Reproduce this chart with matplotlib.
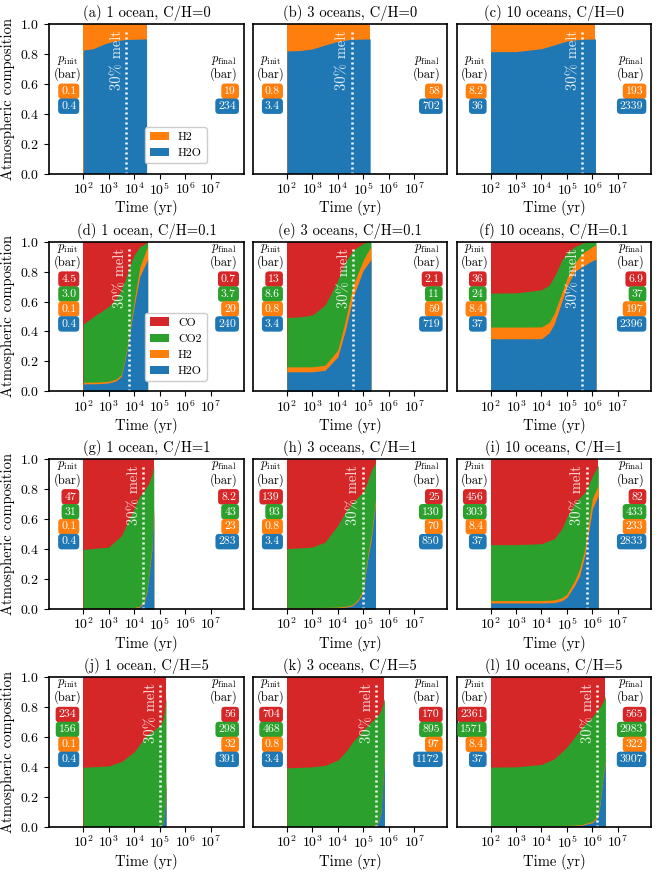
import numpy as np
import matplotlib
matplotlib.use('Agg')
import matplotlib.pyplot as plt
from matplotlib.ticker import NullLocator
from matplotlib.patches import Patch

plt.rcParams['font.family'] = 'serif'
plt.rcParams['font.serif'] = ['cmr10']
plt.rcParams['mathtext.fontset'] = 'cm'
plt.rcParams['axes.formatter.use_mathtext'] = True
plt.rcParams['axes.unicode_minus'] = False

# Panel labels
oceans = ['1 ocean', '3 oceans', '10 oceans']
ch_ratios = ['0', '0.1', '1', '5']
letters = 'abcdefghijkl'

colors = {'CO': '#d62728', 'CO2': '#2ca02c', 'H2': '#ff7f0e', 'H2O': '#1f77b4'}

# log10 of time (yr) for each panel, and the cumulative top of each layer
log_time = [
    [2.0, 2.4, 2.8, 3.2, 3.6, 4.0, 4.49],
    [2.0, 2.5, 3.0, 3.5, 4.0, 4.5, 5.27],
    [2.0, 3.0, 4.0, 4.5, 5.0, 5.5, 6.12],
    [2.0, 2.5, 3.0, 3.3, 3.5, 3.7, 3.81, 4.0, 4.22, 4.53],
    [2.0, 2.5, 3.0, 3.5, 4.0, 4.3, 4.6, 5.0, 5.3],
    [2.0, 3.0, 4.0, 4.3, 4.5, 4.6, 4.8, 5.0, 5.3, 5.6, 6.0, 6.14],
    [2.0, 3.0, 3.5, 3.8, 4.0, 4.2, 4.3, 4.4, 4.5, 4.6, 4.7, 4.77],
    [2.0, 3.0, 3.5, 4.0, 4.3, 4.5, 4.6, 4.8, 5.0, 5.1, 5.2, 5.3, 5.48],
    [2.0, 3.0, 4.0, 4.5, 4.8, 5.0, 5.3, 5.5, 5.7, 5.85, 6.0, 6.23],
    [2.0, 3.0, 3.5, 4.0, 4.5, 4.8, 5.0, 5.1, 5.15, 5.2, 5.25],
    [2.0, 3.0, 3.5, 4.0, 4.3, 4.6, 5.0, 5.3, 5.5, 5.6, 5.7, 5.83],
    [2.0, 3.0, 4.0, 4.5, 5.0, 5.3, 5.6, 6.0, 6.2, 6.3, 6.4, 6.51],
]
top_h2o = [
    [0.825, 0.835, 0.865, 0.885, 0.895, 0.898, 0.90],
    [0.82, 0.822, 0.833, 0.86, 0.884, 0.897, 0.90],
    [0.815, 0.815, 0.835, 0.86, 0.886, 0.897, 0.90],
    [0.049, 0.05, 0.055, 0.07, 0.10, 0.255, 0.367, 0.567, 0.767, 0.88],
    [0.13, 0.13, 0.13, 0.14, 0.23, 0.41, 0.63, 0.81, 0.88],
    [0.351, 0.351, 0.351, 0.39, 0.45, 0.5, 0.6, 0.7, 0.8, 0.833, 0.873, 0.882],
    [0.002, 0.002, 0.003, 0.004, 0.006, 0.012, 0.025, 0.045, 0.11, 0.246, 0.40, 0.65],
    [0.005, 0.005, 0.005, 0.007, 0.012, 0.018, 0.024, 0.056, 0.11, 0.246, 0.36, 0.45, 0.70],
    [0.04, 0.04, 0.04, 0.042, 0.055, 0.078, 0.157, 0.224, 0.358, 0.515, 0.67, 0.76],
    [0.0, 0.0, 0.0, 0.0, 0.0, 0.0, 0.002, 0.01, 0.03, 0.12, 0.30],
    [0.0, 0.0, 0.0, 0.0, 0.0, 0.0, 0.001, 0.004, 0.01, 0.03, 0.10, 0.45],
    [0.003, 0.003, 0.003, 0.004, 0.005, 0.006, 0.01, 0.027, 0.06, 0.15, 0.31, 0.43],
]
top_h2 = [
    [1.0] * 7,
    [1.0] * 7,
    [1.0] * 7,
    [0.06, 0.061, 0.066, 0.082, 0.112, 0.27, 0.385, 0.60, 0.83, 0.97],
    [0.163, 0.163, 0.163, 0.174, 0.275, 0.475, 0.71, 0.877, 0.97],
    [0.429, 0.429, 0.43, 0.46, 0.52, 0.567, 0.66, 0.756, 0.856, 0.922, 0.967, 0.98],
    [0.005, 0.005, 0.006, 0.008, 0.01, 0.018, 0.032, 0.055, 0.125, 0.265, 0.425, 0.68],
    [0.01, 0.01, 0.01, 0.012, 0.018, 0.025, 0.032, 0.066, 0.125, 0.265, 0.385, 0.48, 0.73],
    [0.056, 0.056, 0.056, 0.06, 0.075, 0.10, 0.19, 0.27, 0.40, 0.58, 0.74, 0.83],
    [0.001, 0.001, 0.001, 0.001, 0.001, 0.001, 0.004, 0.013, 0.035, 0.13, 0.32],
    [0.001, 0.001, 0.001, 0.001, 0.001, 0.001, 0.002, 0.006, 0.013, 0.035, 0.11, 0.47],
    [0.006, 0.006, 0.006, 0.007, 0.008, 0.01, 0.015, 0.035, 0.07, 0.165, 0.325, 0.445],
]
top_co2 = [
    [1.0] * 7,
    [1.0] * 7,
    [1.0] * 7,
    [0.449, 0.51, 0.567, 0.62, 0.68, 0.77, 0.83, 0.91, 0.967, 0.996],
    [0.493, 0.497, 0.51, 0.576, 0.743, 0.866, 0.944, 0.99, 1.0],
    [0.656, 0.658, 0.678, 0.71, 0.767, 0.80, 0.878, 0.927, 0.967, 0.99, 1.0, 1.0],
    [0.398, 0.414, 0.49, 0.6, 0.67, 0.75, 0.77, 0.79, 0.82, 0.85, 0.90, 0.96],
    [0.403, 0.414, 0.447, 0.56, 0.65, 0.69, 0.716, 0.75, 0.783, 0.82, 0.87, 0.92, 0.98],
    [0.43, 0.43, 0.436, 0.47, 0.537, 0.615, 0.705, 0.745, 0.78, 0.83, 0.89, 0.96],
    [0.397, 0.406, 0.435, 0.5, 0.614, 0.647, 0.68, 0.70, 0.725, 0.78, 0.87],
    [0.393, 0.4, 0.41, 0.445, 0.5, 0.57, 0.647, 0.70, 0.73, 0.75, 0.78, 0.86],
    [0.398, 0.4, 0.416, 0.454, 0.533, 0.6, 0.667, 0.735, 0.78, 0.8, 0.83, 0.87],
]

# time at 30% melt fraction (log10 yr)
melt_logt = [3.68, 4.55, 5.6, 3.81, 4.6, 5.6, 4.36, 4.98, 5.77, 5.02, 5.51, 6.18]

# partial pressures (bar)
p_init = {
    'CO':  [None, None, None, '4.5', '13', '36', '47', '139', '456', '234', '704', '2361'],
    'CO2': [None, None, None, '3.0', '8.6', '24', '31', '93', '303', '156', '468', '1571'],
    'H2':  ['0.1', '0.8', '8.2', '0.1', '0.8', '8.4', '0.1', '0.8', '8.4', '0.1', '0.8', '8.4'],
    'H2O': ['0.4', '3.4', '36', '0.4', '3.4', '37', '0.4', '3.4', '37', '0.4', '3.4', '37'],
}
p_final = {
    'CO':  [None, None, None, '0.7', '2.1', '6.9', '8.2', '25', '82', '56', '170', '565'],
    'CO2': [None, None, None, '3.7', '11', '37', '43', '130', '433', '298', '895', '2983'],
    'H2':  ['19', '58', '193', '20', '59', '197', '23', '70', '233', '32', '97', '322'],
    'H2O': ['234', '702', '2339', '240', '719', '2396', '283', '850', '2833', '391', '1172', '3907'],
}
box_y = {'CO': 0.75, 'CO2': 0.65, 'H2': 0.55, 'H2O': 0.45}

fig, axes = plt.subplots(4, 3, figsize=(6.62, 8.72), dpi=100)
fig.subplots_adjust(left=0.0745, right=0.9834, top=0.9725, bottom=0.052,
                    wspace=0.048, hspace=0.456)

for k, ax in enumerate(axes.flat):
    row, col = divmod(k, 3)
    t = 10 ** np.array(log_time[k])

    # paint layers from the top down so there are no seams between them
    ax.fill_between(t, 0, 1, color=colors['CO'], lw=0)
    ax.fill_between(t, 0, top_co2[k], color=colors['CO2'], lw=0)
    ax.fill_between(t, 0, top_h2[k], color=colors['H2'], lw=0)
    ax.fill_between(t, 0, top_h2o[k], color=colors['H2O'], lw=0)

    # 30% melt marker
    tm = 10 ** melt_logt[k]
    ax.plot([tm, tm], [0, 0.955], color='white', lw=1.8, ls=(0, (0.8, 1.2)))
    ax.annotate('30% melt', xy=(tm, 0.96), xytext=(-1.5, 0), textcoords='offset points',
                rotation=90, ha='right', va='top', color='white', alpha=0.88, fontsize=10.5)

    # pressure boxes
    shown = [s for s in ['CO', 'CO2', 'H2', 'H2O'] if p_init[s][k] is not None]
    top_box = max(box_y[s] for s in shown)
    for s in shown:
        bb = dict(boxstyle='round,pad=0.25,rounding_size=0.3', fc=colors[s], ec='none')
        ax.text(10 ** 1.73, box_y[s], p_init[s][k], ha='right', va='center',
                fontsize=8.5, color='white', bbox=bb)
        ax.text(10 ** 8.0, box_y[s], p_final[s][k], ha='right', va='center',
                fontsize=8.5, color='white', bbox=bb)
    ax.text(10 ** 1.37, top_box + 0.16, '$p_{\\rm init}$\n(bar)', ha='center',
            va='center', fontsize=9, linespacing=1.05)
    ax.text(10 ** 7.5, top_box + 0.16, '$p_{\\rm final}$\n(bar)', ha='center',
            va='center', fontsize=9, linespacing=1.05)

    ax.set_xscale('log')
    ax.set_xlim(10 ** 0.67, 10 ** 8.3)
    ax.set_ylim(0, 1)
    ax.set_xticks([1e2, 1e3, 1e4, 1e5, 1e6, 1e7])
    ax.xaxis.set_minor_locator(NullLocator())
    ax.tick_params(labelsize=10)
    ax.tick_params(axis='x', pad=2)
    for sp in ax.spines.values():
        sp.set_linewidth(1.2)

    ax.set_title(f'({letters[k]}) {oceans[col]}, C/H={ch_ratios[row]}', fontsize=10.5, pad=5)
    ax.set_xlabel('Time (yr)', fontsize=10.5, labelpad=2)
    if col == 0:
        ax.set_ylabel('Atmospheric composition', fontsize=10.5)
        ax.set_yticks(np.arange(0, 1.01, 0.2))
    else:
        ax.set_yticks([])

    if k in (0, 3):
        handles = [Patch(facecolor=colors[s], label=s) for s in shown]
        ax.legend(handles=handles, loc='lower right', bbox_to_anchor=(0.84, 0.03),
                  fontsize=8.5, handlelength=1.6, framealpha=1, edgecolor='0.8')

fig.savefig('out.png', dpi=100)
